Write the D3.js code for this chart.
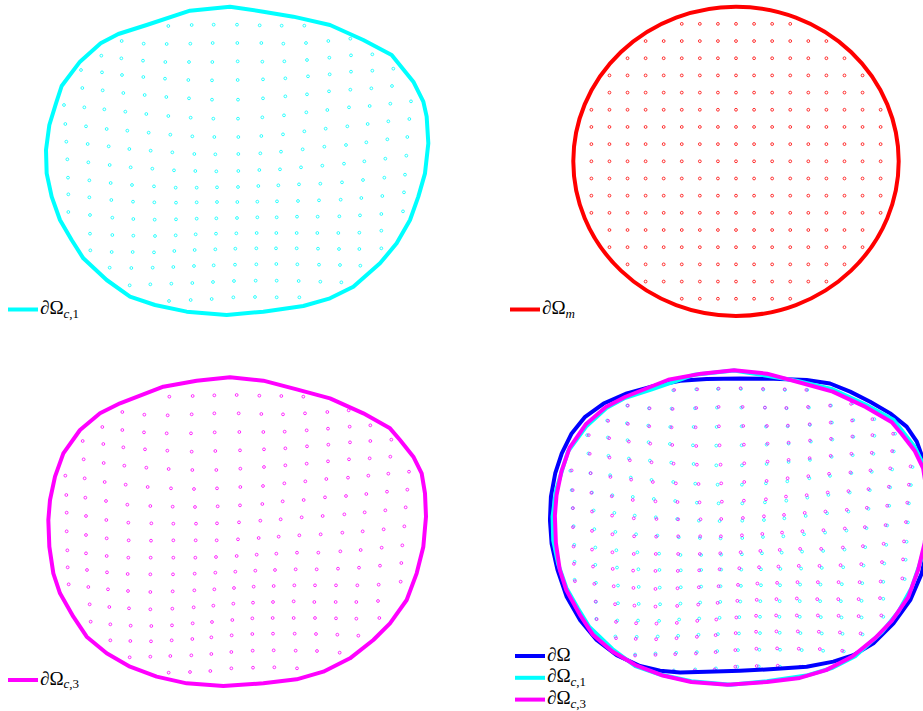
<!DOCTYPE html>
<html>
<head>
<meta charset="utf-8">
<script src="https://cdn.jsdelivr.net/npm/d3@7"></script>
<style>
  body { margin: 0; background: #fff; }
  svg { display: block; }
</style>
</head>
<body>
<div id="chart"></div>
<script>
// digitised shapes, x to the right, y downward (same frame for cyan, magenta and blue)
const cyanBoundary = [[600,20],[480,32],[350,75],[265,102],[212,130],[150,185],[95,258],[78,310],[58,375],[48,450],[50,520],[65,590],[90,660],[125,720],[160,775],[230,840],[300,890],[375,915],[470,935],[590,945],[700,935],[820,918],[900,895],[970,860],[1050,790],[1100,730],[1140,660],[1165,590],[1185,520],[1195,430],[1190,350],[1180,305],[1150,245],[1085,165],[1000,120],[900,75],[790,50],[700,35]];

const cyanRows = [
  [[415,78],[485,75],[551,74],[621,74],[689,76],[755,77],[823,77]],
  [[275,123],[341,131],[410,132],[481,131],[548,129],[622,129],[694,129],[760,131],[828,129],[895,123],[961,116]],
  [[214,167],[274,175],[339,182],[406,186],[477,186],[547,186],[623,184],[697,185],[763,184],[831,180],[898,173],[963,166],[1027,163]],
  [[153,210],[216,217],[276,225],[340,231],[405,236],[475,240],[546,241],[623,240],[699,238],[766,235],[834,229],[899,223],[963,215],[1027,212],[1090,206]],
  [[157,264],[218,271],[280,279],[344,285],[409,291],[477,295],[546,299],[624,299],[699,295],[766,289],[831,283],[897,274],[961,269],[1024,265],[1086,258]],
  [[102,315],[163,322],[223,328],[286,335],[349,342],[415,348],[482,353],[550,356],[624,356],[697,352],[762,346],[829,337],[892,330],[957,322],[1019,318],[1081,311],[1143,304]],
  [[106,372],[168,379],[230,387],[292,392],[356,398],[421,404],[487,409],[553,411],[625,411],[694,408],[759,403],[823,394],[887,386],[952,379],[1013,372],[1075,364],[1138,357]],
  [[109,425],[173,432],[236,439],[298,447],[362,452],[427,457],[493,462],[556,463],[625,462],[691,460],[753,455],[818,448],[883,440],[948,435],[1009,427],[1072,418],[1132,411]],
  [[112,478],[175,487],[239,495],[302,502],[367,506],[432,511],[496,513],[559,514],[625,513],[688,510],[750,508],[813,502],[877,497],[942,491],[1003,484],[1066,476],[1129,467]],
  [[114,533],[178,541],[242,549],[306,555],[372,559],[437,563],[500,563],[561,562],[624,561],[685,558],[745,556],[807,553],[871,551],[936,547],[999,540],[1063,533],[1125,524]],
  [[115,583],[178,592],[244,600],[309,605],[373,607],[438,608],[500,607],[561,606],[622,606],[682,605],[741,604],[804,603],[867,601],[932,599],[994,594],[1057,588],[1122,577]],
  [[115,636],[180,645],[247,653],[310,657],[374,659],[438,658],[500,656],[559,655],[621,654],[682,652],[740,652],[801,650],[863,650],[928,649],[990,646],[1054,642],[1119,634]],
  [[180,701],[247,705],[310,707],[375,708],[437,706],[497,703],[558,701],[619,700],[680,699],[739,699],[800,699],[862,699],[925,699],[988,698],[1054,692]],
  [[181,751],[245,756],[308,756],[372,757],[433,753],[494,750],[556,748],[616,746],[679,745],[738,745],[800,745],[864,746],[927,747],[988,747],[1054,745]],
  [[239,803],[304,804],[368,803],[430,801],[492,798],[551,796],[615,794],[679,793],[739,792],[802,793],[867,794],[930,795],[991,797]],
  [[299,856],[361,853],[424,851],[487,849],[549,846],[612,843],[677,842],[740,842],[806,843],[871,845],[934,847]],
  [[417,903],[482,900],[545,897],[610,892],[675,891],[740,892],[808,892]]
];

const magentaBoundary = [[600,19],[500,29],[400,47],[270,97],[210,127],[150,177],[100,247],[75,317],[60,387],[55,447],[58,527],[70,607],[90,667],[130,737],[170,797],[230,847],[300,887],[380,917],[470,937],[580,945],[700,937],[800,925],[880,902],[960,862],[1030,807],[1080,757],[1130,687],[1160,607],[1180,527],[1188,437],[1185,367],[1175,307],[1150,257],[1110,207],[1080,172],[1000,127],[900,82],[800,55],[700,29]];

const magentaRows = [
  [[418,77],[488,75],[553,73],[620,72],[688,74],[754,75],[820,77]],
  [[277,123],[343,131],[413,133],[485,130],[553,127],[626,127],[694,129],[759,130],[825,127],[892,123],[956,118]],
  [[217,168],[277,177],[342,184],[410,187],[483,187],[554,184],[628,183],[700,183],[764,182],[830,178],[894,173],[959,167],[1021,163]],
  [[158,210],[220,219],[280,229],[345,235],[412,239],[485,242],[556,240],[630,238],[702,235],[766,232],[831,226],[895,221],[960,214],[1021,210],[1084,206]],
  [[161,265],[221,276],[283,284],[349,290],[416,294],[487,297],[559,297],[631,293],[702,288],[766,283],[830,278],[894,271],[957,265],[1019,262],[1081,257]],
  [[106,314],[164,322],[224,333],[287,341],[353,348],[423,352],[492,354],[561,352],[631,348],[699,345],[763,337],[826,331],[889,324],[954,320],[1015,314],[1075,308],[1137,302]],
  [[109,372],[166,380],[228,390],[292,401],[361,405],[428,407],[495,408],[563,406],[630,403],[697,399],[758,391],[821,387],[885,379],[948,375],[1009,369],[1071,362],[1132,356]],
  [[110,425],[168,435],[229,447],[295,455],[364,457],[430,458],[498,458],[561,457],[627,454],[691,449],[752,445],[815,439],[878,435],[943,430],[1004,424],[1066,418],[1127,409]],
  [[110,481],[168,492],[230,502],[296,508],[363,509],[430,508],[497,508],[560,508],[624,505],[686,501],[746,497],[808,493],[872,490],[937,485],[998,481],[1061,475],[1123,466]],
  [[112,538],[168,547],[230,555],[295,560],[362,560],[430,560],[496,560],[558,558],[620,555],[680,551],[739,548],[801,545],[865,545],[931,541],[992,537],[1055,530],[1117,523]],
  [[113,589],[171,597],[231,604],[293,609],[361,610],[429,610],[494,608],[556,605],[616,602],[676,599],[735,597],[797,595],[860,595],[924,593],[987,590],[1050,584],[1114,576]],
  [[116,640],[175,648],[234,655],[294,660],[361,663],[428,661],[493,658],[553,655],[612,651],[671,647],[731,645],[793,643],[855,643],[918,643],[982,643],[1046,641],[1112,632]],
  [[179,700],[238,708],[297,712],[361,715],[427,713],[491,709],[550,704],[610,698],[669,695],[729,693],[791,691],[853,693],[917,693],[979,693],[1044,690]],
  [[182,752],[241,760],[302,764],[364,765],[426,763],[488,757],[546,753],[607,747],[667,742],[728,741],[791,741],[855,741],[918,742],[979,743],[1048,741]],
  [[241,808],[301,810],[363,811],[425,808],[487,804],[544,799],[605,793],[667,789],[729,788],[794,788],[858,789],[922,791],[985,794]],
  [[299,859],[361,857],[421,855],[484,853],[544,849],[604,843],[668,839],[731,838],[797,839],[861,840],[929,845]],
  [[416,905],[480,903],[541,900],[604,892],[669,890],[733,889],[801,892]]
];

const blueBoundary = [[365,63],[436,50],[517,45],[618,43],[720,44],[821,48],[892,58],[953,82],[1014,112],[1075,146],[1125,185],[1156,229],[1176,283],[1186,342],[1191,411],[1191,480],[1186,548],[1171,617],[1136,696],[1085,764],[1024,823],[963,858],[902,877],[821,892],[720,899],[618,904],[517,907],[436,909],[375,904],[314,890],[243,858],[182,813],[132,755],[91,686],[63,607],[45,529],[40,460],[43,391],[56,323],[76,264],[106,205],[147,156],[203,117],[274,87]];

// red reference disc: unit circle, grid step 1/9, points per row (half widths, top to bottom)
const redRadius = 1;
const redStep = 1 / 9;
const redRowHalfWidths = [3, 5, 6, 7, 7, 8, 8, 8, 8, 8, 8, 8, 7, 7, 6, 5, 3];

const width = 923, height = 711;
const svg = d3.select('#chart').append('svg').attr('width', width).attr('height', height);

const line = d3.line().curve(d3.curveLinearClosed);

function drawBoundary(g, pts, x, y, color) {
  g.append('path')
    .attr('d', line(pts.map(p => [x(p[0]), y(p[1])])))
    .attr('fill', 'none')
    .attr('stroke', color)
    .attr('stroke-width', 4)
    .attr('stroke-linejoin', 'round');
}

function drawPoints(g, rows, x, y, color) {
  g.selectAll(null)
    .data(rows.flat())
    .enter()
    .append('circle')
    .attr('cx', d => x(d[0]))
    .attr('cy', d => y(d[1]))
    .attr('r', 1.4)
    .attr('fill', 'none')
    .attr('stroke', color)
    .attr('stroke-width', 0.8);
}

// legend: [colour, subscript]
function drawLegend(g, x0, y0, items) {
  items.forEach((it, i) => {
    const yy = y0 + i * 21.8;
    g.append('line')
      .attr('x1', x0).attr('x2', x0 + 30)
      .attr('y1', yy).attr('y2', yy)
      .attr('stroke', it[0]).attr('stroke-width', 4);
    const t = g.append('text')
      .attr('x', x0 + 32).attr('y', yy + 4.5)
      .attr('font-family', 'Liberation Serif, DejaVu Serif, serif')
      .attr('font-size', 19)
      .attr('fill', '#000');
    t.append('tspan').attr('font-style', 'italic').text('∂');
    t.append('tspan').text('Ω');
    if (it[1]) {
      const sub = t.append('tspan').attr('font-size', 13).attr('dy', 3.5);
      sub.append('tspan').attr('font-style', 'italic').text(it[1][0]);
      if (it[1].length > 1) sub.append('tspan').text(it[1].slice(1));
    }
  });
}

// top left: ∂Ω_{c,1}
{
  const x = d3.scaleLinear().domain([0, 1260]).range([30, 450]);
  const y = d3.scaleLinear().domain([0, 990]).range([0, 330]);
  const g = svg.append('g');
  drawPoints(g, cyanRows, x, y, '#00ffff');
  drawBoundary(g, cyanBoundary, x, y, '#00ffff');
  drawLegend(g, 8, 309.5, [['#00ffff', 'c,1']]);
}

// top right: ∂Ω_m
{
  const x = d3.scaleLinear().domain([-1, 1]).range([573.3, 898.7]);
  const y = d3.scaleLinear().domain([-1, 1]).range([315.9, 6.7]);
  const g = svg.append('g');
  const pts = [];
  redRowHalfWidths.forEach((hw, r) => {
    const j = (redRowHalfWidths.length - 1) / 2 - r;
    d3.range(-hw, hw + 1).forEach(i => pts.push([i * redStep, j * redStep]));
  });
  drawPoints(g, [pts], x, y, '#ff0000');
  g.append('ellipse')
    .attr('cx', x(0)).attr('cy', y(0))
    .attr('rx', x(redRadius) - x(0)).attr('ry', y(-redRadius) - y(0))
    .attr('fill', 'none').attr('stroke', '#ff0000').attr('stroke-width', 4);
  drawLegend(g, 510, 309.5, [['#ff0000', 'm']]);
}

// bottom left: ∂Ω_{c,3}
{
  const x = d3.scaleLinear().domain([0, 1260]).range([30, 450]);
  const y = d3.scaleLinear().domain([0, 990]).range([371, 701]);
  const g = svg.append('g');
  drawPoints(g, magentaRows, x, y, '#ff00ff');
  drawBoundary(g, magentaBoundary, x, y, '#ff00ff');
  drawLegend(g, 8, 680, [['#ff00ff', 'c,3']]);
}

// bottom right: all three
{
  const x = d3.scaleLinear().domain([0, 1260]).range([536.8, 951.0]);
  const y = d3.scaleLinear().domain([0, 990]).range([363.8, 700.0]);
  const g = svg.append('g');
  drawPoints(g, cyanRows, x, y, '#00ffff');
  drawPoints(g, magentaRows, x, y, '#ff00ff');
  drawBoundary(g, blueBoundary, x, y, '#0000ff');
  drawBoundary(g, cyanBoundary, x, y, '#00ffff');
  drawBoundary(g, magentaBoundary, x, y, '#ff00ff');
  drawLegend(g, 515, 656, [['#0000ff', ''], ['#00ffff', 'c,1'], ['#ff00ff', 'c,3']]);
}
</script>
</body>
</html>
